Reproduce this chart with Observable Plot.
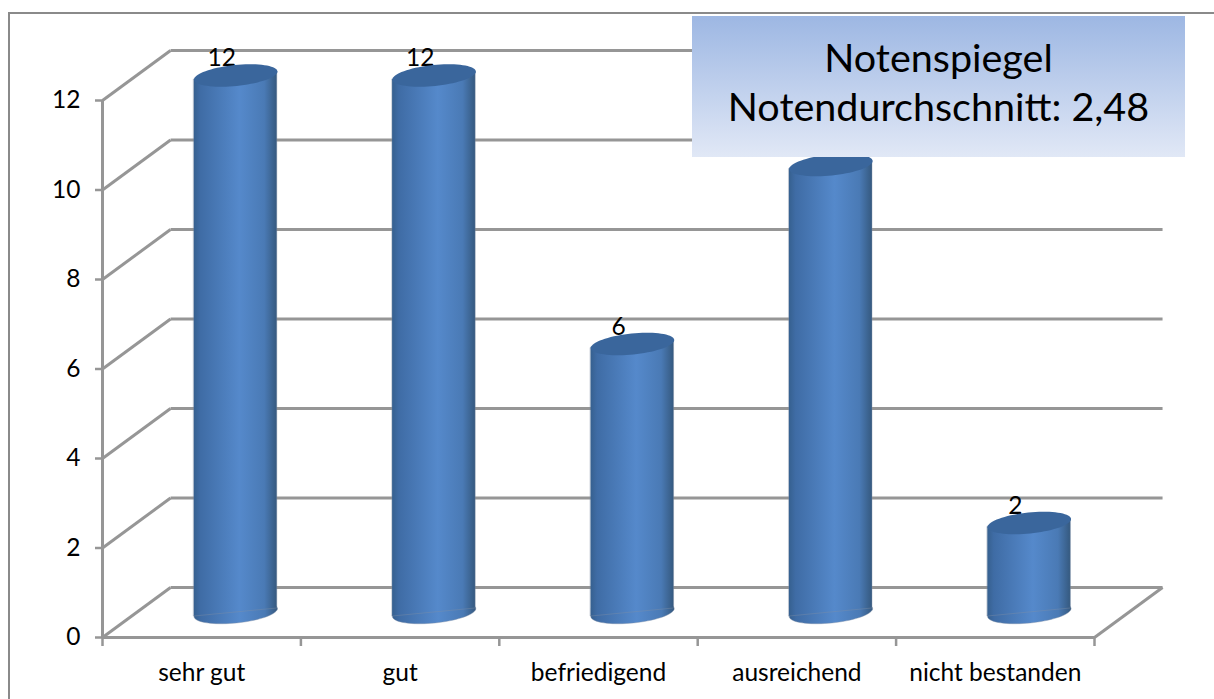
<!DOCTYPE html>
<html lang="de">
<head>
<meta charset="utf-8">
<title>Notenspiegel</title>
<script src="https://cdn.jsdelivr.net/npm/d3@7"></script>
<script src="https://cdn.jsdelivr.net/npm/@observablehq/plot@0.6"></script>
<style>
  html, body { margin: 0; padding: 0; background: #fff; }
  #wrap { position: relative; width: 1214px; height: 699px; overflow: hidden; font-family: Lato, sans-serif; }
  #wrap svg { display: block; }
  #border { position: absolute; left: 8px; top: 12px; width: 1206px; height: 687px; border-left: 2px solid #8a8a8a; border-top: 2px solid #8a8a8a; box-sizing: border-box; pointer-events: none; }
  #box { position: absolute; left: 692px; top: 16px; width: 493px; height: 141px; background: linear-gradient(#9db7e3, #e1e8f6);
         text-align: center; color: #000; font-size: 39.5px; line-height: 49px; padding-top: 16px; box-sizing: border-box; }
</style>
</head>
<body>
<div id="wrap">
  <div id="chart"></div>
  <div id="border"></div>
  <div id="box">Notenspiegel<br>Notendurchschnitt: 2,48</div>
</div>
<script>
const categories = ["sehr gut", "gut", "befriedigend", "ausreichend", "nicht bestanden"];
const values = [12, 12, 6, 10, 2];
const yTicks = [0, 2, 4, 6, 8, 10, 12];
const xEdges = [0, 1, 2, 3, 4, 5];

// 3D projection expressed in data units of the two scales
const depthX = 0.343, depthY = 1.117;
const halfW = 0.2095, tilt = 0.09;

const bars = values.map((v, i) => ({cat: categories[i], i, v, cx: i + 0.5 + depthX / 2}));
const sides = bars.flatMap(b => [
  {cat: b.cat, x: b.cx - halfW, y1: depthY / 2 - tilt, y2: b.v + depthY / 2 - tilt},
  {cat: b.cat, x: b.cx + halfW, y1: depthY / 2 + tilt, y2: b.v + depthY / 2 + tilt}
]);

// tilted ellipse symbol for the cylinder caps
const tiltedEllipse = {
  draw(ctx, size) {
    const a = Math.sqrt(size / Math.PI), b = a * 0.25, th = -5.8 * Math.PI / 180;
    const n = 72;
    for (let k = 0; k < n; ++k) {
      const t = 2 * Math.PI * k / n;
      const px = a * Math.cos(t), py = b * Math.sin(t);
      const X = px * Math.cos(th) - py * Math.sin(th);
      const Y = px * Math.sin(th) + py * Math.cos(th);
      if (k === 0) ctx.moveTo(X, Y); else ctx.lineTo(X, Y);
    }
    ctx.closePath();
  }
};

const defs = () => {
  const d = d3.create("svg:defs");
  const g = d.append("linearGradient").attr("id", "cyl").attr("x1", 0).attr("x2", 1).attr("y1", 0).attr("y2", 0);
  [[0, "#36608f"], [0.08, "#3f6ca5"], [0.55, "#5589cb"], [0.85, "#4a7ab5"], [1, "#35597f"]]
    .forEach(([o, c]) => g.append("stop").attr("offset", o).attr("stop-color", c));
  return d.node();
};

const grid = {stroke: "#969696", strokeWidth: 3};
const halo = {stroke: "#7f8fa5", strokeOpacity: 0.4, strokeWidth: 1};

const plot = Plot.plot({
  width: 1214,
  height: 699,
  marginLeft: 102,
  marginRight: 120,
  marginTop: 100,
  marginBottom: 62,
  style: {background: "transparent", fontFamily: "Lato, sans-serif", color: "#000"},
  x: {type: "linear", domain: [0, 5]},
  y: {type: "linear", domain: [0, 12]},
  marks: [
    defs,
    // back wall gridlines
    Plot.link(yTicks, {x1: depthX, x2: 5 + depthX, y1: d => d + depthY, y2: d => d + depthY, ...grid}),
    // side wall diagonals
    Plot.link(yTicks, {x1: 0, x2: depthX, y1: d => d, y2: d => d + depthY, ...grid}),
    // floor right diagonal
    Plot.link([0], {x1: 5, x2: 5 + depthX, y1: d => d, y2: d => d + depthY, ...grid}),
    // value axis line and floor front line
    Plot.ruleX([0], {y1: 0, y2: 12, ...grid}),
    Plot.ruleY([0], {x1: 0, x2: 5, ...grid}),
    Plot.axisY({ticks: yTicks, tickSize: 7, tickPadding: 15, fontSize: 24.5, label: null, stroke: "#969696", strokeWidth: 2.5, fill: "#000"}),
    Plot.axisX({ticks: xEdges, tickSize: 9, tickFormat: () => "", label: null, stroke: "#969696", strokeWidth: 2.5}),
    Plot.axisX({ticks: categories.map((_, i) => i + 0.5), tickSize: 0, tickPadding: 26, tickFormat: d => categories[d - 0.5], fontSize: 24.5, label: null, fill: "#000"}),
    // data labels
    Plot.text(bars, {x: "cx", y: d => d.v + depthY / 2, text: d => String(d.v), dx: -14, dy: -17, fontSize: 24.5, fill: "#000"}),
    // cylinders
    Plot.dot(bars, {x: "cx", y: () => depthY / 2, r: 41.9, symbol: tiltedEllipse, fill: "url(#cyl)", ...halo}),
    Plot.area(sides, {x1: "x", y1: "y1", y2: "y2", z: "cat", fill: "url(#cyl)", ...halo}),
    Plot.dot(bars, {x: "cx", y: d => d.v + depthY / 2, r: 41.9, symbol: tiltedEllipse, fill: "#3a669c"})
  ]
});
document.getElementById("chart").appendChild(plot);
</script>
</body>
</html>
